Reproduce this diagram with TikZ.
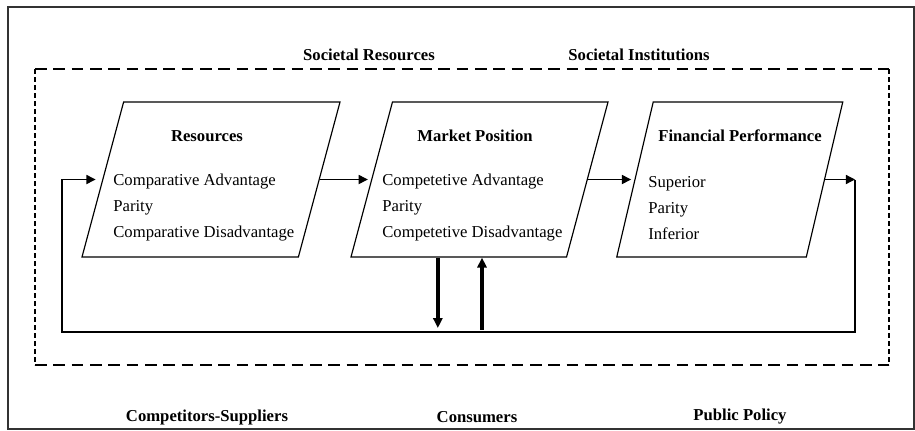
\documentclass[tikz,border=0pt]{standalone}
\usepackage{fontspec}
\setmainfont{Liberation Serif}
\usetikzlibrary{arrows.meta, positioning, shapes.geometric, calc}

\begin{document}
\begin{tikzpicture}[x=0.6pt, y=-0.6pt,
  font=\fontsize{10}{15.6}\selectfont,
  para/.style={trapezium, draw, line width=0.7pt, trapezium left angle=76.6,
               trapezium right angle=103.4, trapezium stretches=true,
               minimum height=93pt, inner sep=1pt},
  ttl/.style={font=\fontsize{10}{12}\selectfont\bfseries},
  items/.style={align=left, anchor=west, inner sep=0pt},
  ar/.style={-{Triangle[length=5.5pt,width=5.5pt]}, line width=0.75pt},
  bigar/.style={-{Triangle[length=6pt,width=5.5pt]}, line width=2.2pt}]
\useasboundingbox (0,0) rectangle (915,430);
% outer frame and environment box
\draw[line width=1pt, black!80] (8,7) rectangle (914,429);
\draw[line width=0.8pt, dash pattern=on 7pt off 4pt] (35,69) -- (889,69) (35,365) -- (889,365);
\draw[line width=0.8pt, dash pattern=on 3pt off 1.8pt] (35,69) -- (35,365) (889,69) -- (889,365);
\node[ttl] (socres) at (369,55) {Societal Resources};
\node[ttl] (socinst) at (639,55) {Societal Institutions};
\node[ttl] (compsup) at (207,417) {Competitors-Suppliers};
\node[ttl] (cons) at (477,417) {Consumers};
\node[ttl] (pubpol) at (740,417) {Public Policy};
% the three stages
\node[para, minimum width=154.8pt] (res) at (211,179.5) {};
\node[para, minimum width=154.2pt] (mkt) at (479.5,179.5) {};
\node[para, minimum width=135.6pt] (fin) at (729.75,179.5) {};
\node[ttl] (res-t) at (207,136) {Resources};
\node[ttl] (mkt-t) at (475,136) {Market Position};
\node[ttl] (fin-t) at (740,136) {Financial Performance};
\node[items] (res-i) at (113,208) {Comparative Advantage\\Parity\\Comparative Disadvantage};
\node[items] (mkt-i) at (382,208) {Competetive Advantage\\Parity\\Competetive Disadvantage};
\node[items] (fin-i) at (648,208) {Superior\\Parity\\Inferior};
% feedback loop
\coordinate (fb-r) at (855,179.5);
\coordinate (fb-br) at (855,332);
\coordinate (fb-bl) at (62,332);
\coordinate (fb-l) at (62,179.5);
\draw[ar, shorten >=2pt] (res.east) -- (mkt.west);
\draw[ar, shorten >=2pt] (mkt.east) -- (fin.west);
\draw[ar] (fin.east) -- (fb-r);
\draw[ar, shorten >=4pt] (fb-r) -- (fb-br) -- (fb-bl) -- (fb-l) -- (res.west);
\draw[bigar, shorten >=2.4pt] ([xshift=-25pt]mkt.south) -- ([xshift=-25pt]mkt.south |- fb-bl);
\draw[bigar, shorten <=1.5pt] ([xshift=1.5pt]mkt.south |- fb-bl) -- ([xshift=1.5pt]mkt.south);
\end{tikzpicture}
\end{document}
